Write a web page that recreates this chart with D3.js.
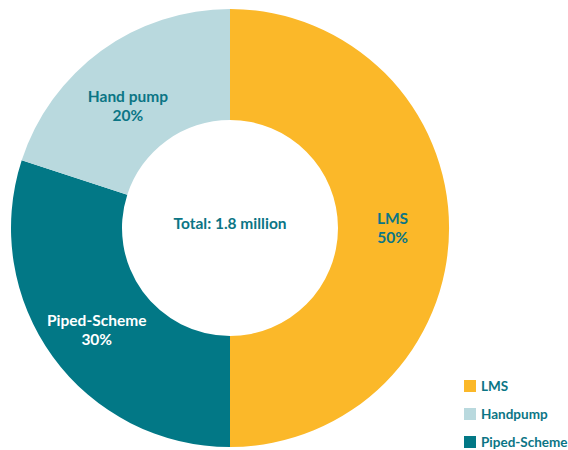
<!DOCTYPE html>
<meta charset="utf-8">
<style>
body { margin: 0; background: #fff; }
text { font-family: Lato, "Open Sans", sans-serif; font-weight: bold; }
</style>
<body>
<script src="https://d3js.org/d3.v7.min.js"></script>
<script>

var sources = ["LMS", "Piped-Scheme", "Hand pump"];
var shares = [50, 30, 20];
var colours = ["#fbb829", "#027886", "#b9d9de"];
var labelColours = ["#0b7585", "#ffffff", "#0b7585"];
var legendNames = ["LMS", "Handpump", "Piped-Scheme"];
var legendColours = ["#fbb829", "#b9d9de", "#027886"];
var total = "Total: 1.8 million";

var width = 568, height = 450,
    cx = 230, cy = 228,
    outer = 219, inner = 108;

// small nudges so the labels sit where the original put them
var nudge = [[-1, 0], [-1, 6], [-6, 10]];

var svg = d3.select("body").append("svg")
    .attr("width", width)
    .attr("height", height);

var data = sources.map(function(s, i) { return {name: s, value: shares[i], i: i}; });

var pie = d3.pie()
    .sort(null)
    .value(function(d) { return d.value; });

var arc = d3.arc()
    .innerRadius(inner)
    .outerRadius(outer);

var g = svg.append("g")
    .attr("transform", "translate(" + cx + "," + cy + ")");

var arcs = pie(data);

g.selectAll("path")
    .data(arcs)
  .enter().append("path")
    .attr("d", arc)
    .attr("fill", function(d) { return colours[d.data.i]; });

var labels = g.selectAll(".label")
    .data(arcs)
  .enter().append("text")
    .attr("class", "label")
    .attr("transform", function(d) {
      var c = arc.centroid(d), n = nudge[d.data.i];
      return "translate(" + (c[0] + n[0]) + "," + (c[1] + n[1]) + ")";
    })
    .attr("text-anchor", "middle")
    .style("font-size", "15.5px")
    .attr("fill", function(d) { return labelColours[d.data.i]; });

labels.append("tspan")
    .attr("x", 0)
    .attr("y", -4)
    .text(function(d) { return d.data.name; });

labels.append("tspan")
    .attr("x", 0)
    .attr("y", 15)
    .text(function(d) { return d.data.value + "%"; });

g.append("text")
    .attr("text-anchor", "middle")
    .attr("y", 1)
    .style("font-size", "15.5px")
    .attr("fill", "#0b7585")
    .text(total);

var legend = svg.append("g")
    .attr("transform", "translate(464,380)");

var item = legend.selectAll("g")
    .data(legendNames)
  .enter().append("g")
    .attr("transform", function(d, i) { return "translate(0," + (i * 28) + ")"; });

item.append("rect")
    .attr("width", 12)
    .attr("height", 12)
    .attr("fill", function(d, i) { return legendColours[i]; });

item.append("text")
    .attr("x", 17)
    .attr("y", 11)
    .style("font-size", "13.5px")
    .attr("fill", "#0b7585")
    .text(function(d) { return d; });

</script>
</body>
